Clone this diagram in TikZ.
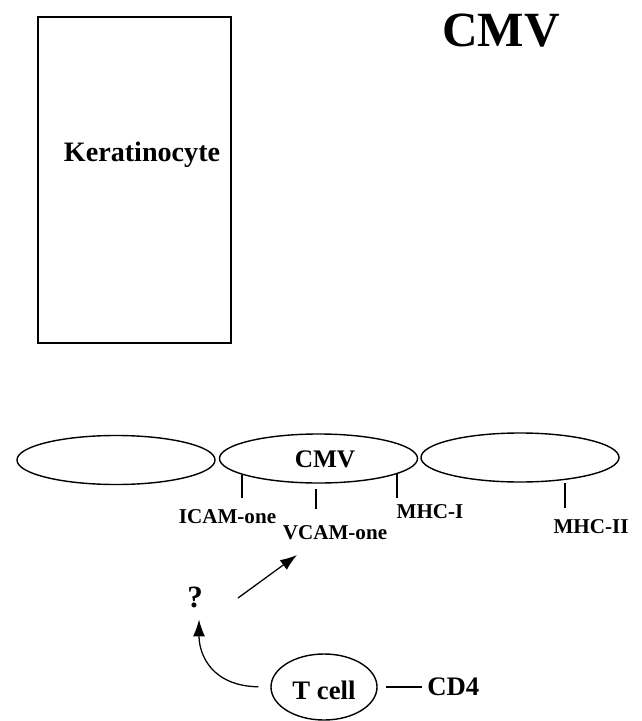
\documentclass[tikz,border=0pt]{standalone}
\usepackage{fontspec}
\setmainfont{Liberation Serif}
\usetikzlibrary{shapes.geometric,arrows.meta}

\tikzset{
  cell/.style={draw, ellipse, line width=1pt, inner sep=0pt},
  tick/.style={line width=0.9pt},
  arr/.style={line width=0.9pt, -{Latex[length=12pt,width=8.5pt]}},
  lbl/.style={font=\bfseries\fontsize{15}{17}\selectfont, inner sep=0pt},
}

\begin{document}
\begin{tikzpicture}[x=0.025cm, y=-0.025cm]
  \useasboundingbox (0,0) rectangle (642,721);

  % keratinocyte and the virus
  \node(kbox) [draw, line width=1.2pt, minimum width=4.825cm, minimum height=8.15cm] at (134.5,180) {};
  \node(kname) at (142,155) {\bfseries\fontsize{20}{24}\selectfont Keratinocyte};
  \node(virus) at (501,31) {\bfseries\fontsize{35}{40}\selectfont CMV};

  % row of cells
  \node(c1) [cell, minimum width=4.95cm, minimum height=1.225cm] at (116,460) {};
  \node(c2) [cell, minimum width=4.95cm, minimum height=1.225cm] at (318.5,458.5) {};
  \node(c3) [cell, minimum width=4.95cm, minimum height=1.225cm] at (520,457.5) {};
  \node(cmv) at (325,459) {\bfseries\fontsize{18}{21}\selectfont CMV};

  % surface molecules
  \draw[tick] (242,475) -- (242,498);
  \draw[tick] (316,489) -- (316,509);
  \draw[tick] (397,473) -- (397,498);
  \draw[tick] (565,483) -- (565,508);
  \node(icam) [lbl] at (227.5,517) {ICAM-one};
  \node(vcam) [lbl] at (335,533) {VCAM-one};
  \node(mhc1) [lbl] at (430,512) {MHC-I};
  \node(mhc2) [lbl] at (591,527) {MHC-II};

  % T cell
  \node(tcell) [cell, minimum width=2.65cm, minimum height=1.65cm] at (324,687) {};
  \node(tname) at (324,690) {\bfseries\fontsize{19}{22}\selectfont T cell};
  \node(cd4) [anchor=west, inner sep=0pt] at (427,687) {\bfseries\fontsize{19}{22}\selectfont CD4};
  \draw[tick] ([xshift=0.2cm]tcell.east) -- ([xshift=-0.12cm]cd4.west);
  \node(qmark) at (195,597) {\bfseries\fontsize{22}{26}\selectfont ?};

  \coordinate(s) at (238,598);
  \coordinate(e) at (297,555);
  \draw[arr] (s) -- (e);
  \draw[arr, shorten <=0.3cm, shorten >=5pt] (tcell.west) .. controls (212,686) and (199,655) .. ([xshift=0.1cm]qmark.south);
\end{tikzpicture}
\end{document}
